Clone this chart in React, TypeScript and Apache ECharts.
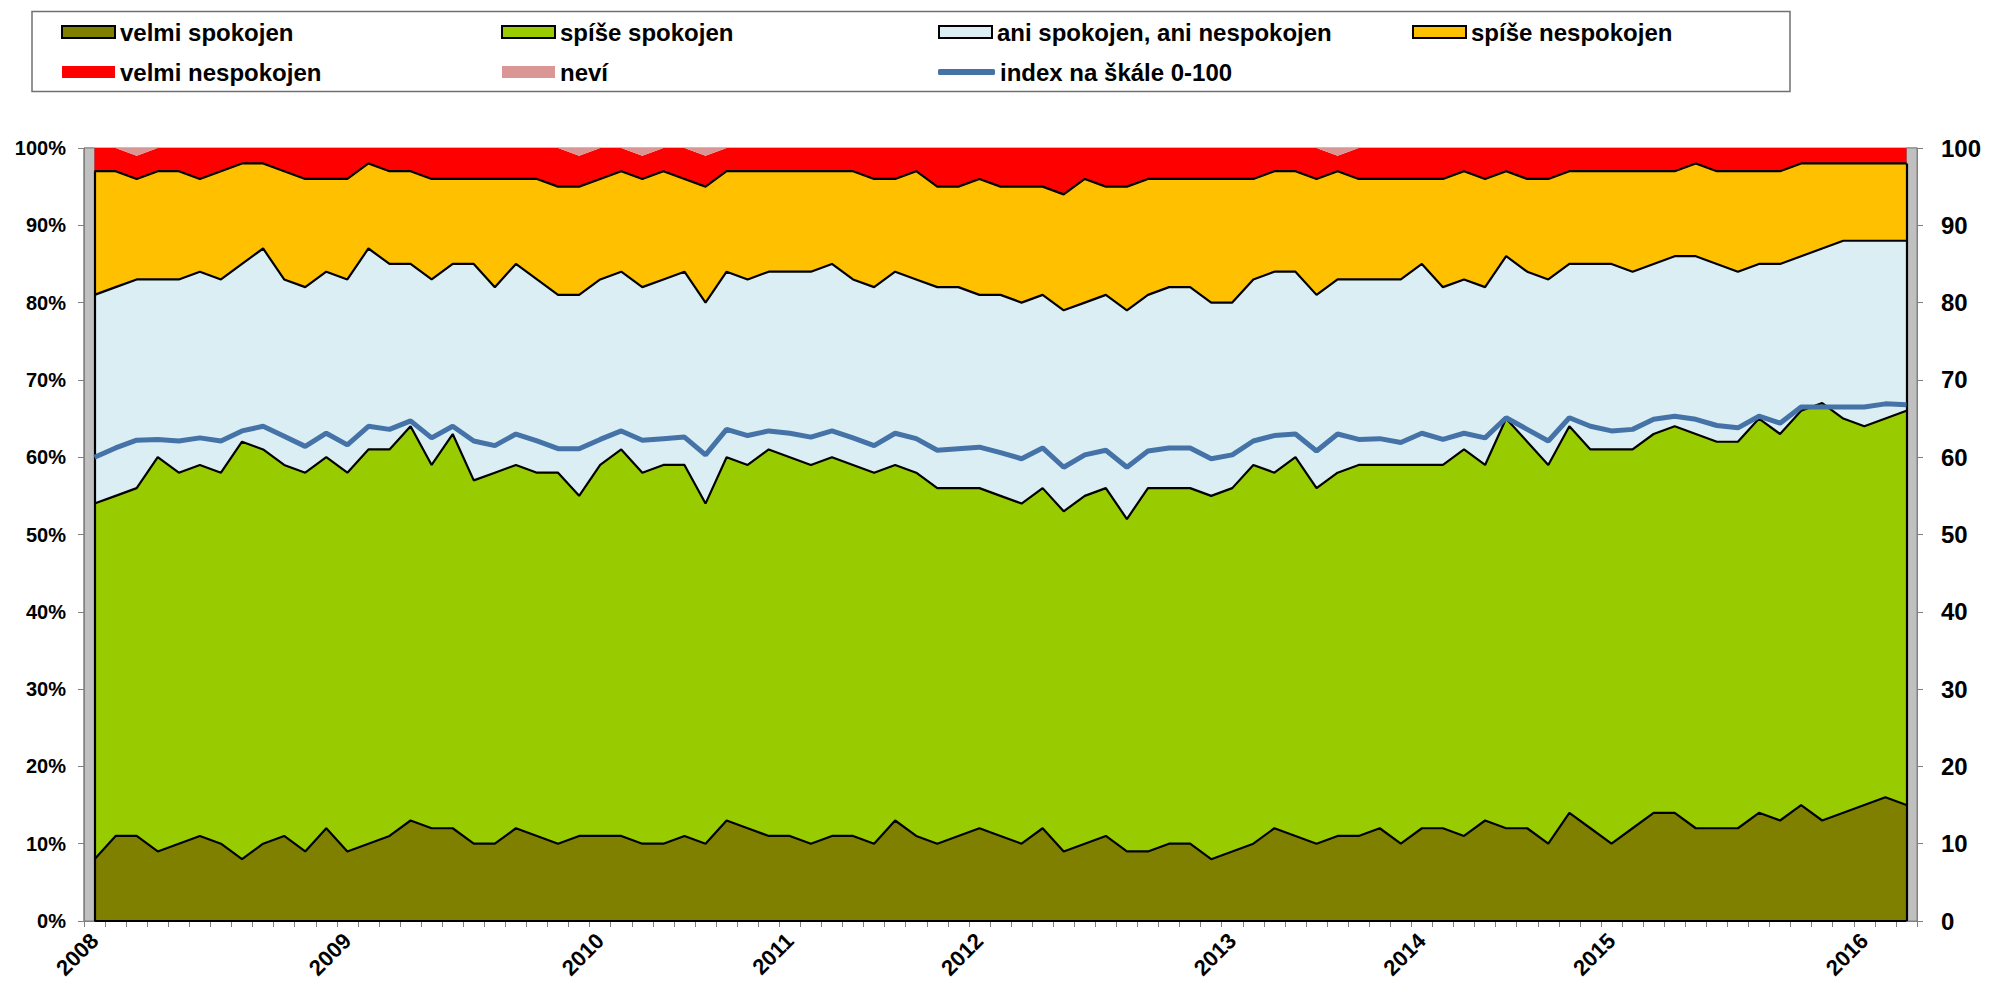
import { useEffect, useRef } from "react";
import * as echarts from "echarts";

// ---- data (percent of respondents, one value per survey) ----
const years = ["2008", "2009", "2010", "2011", "2012", "2013", "2014", "2015", "2016"];
const surveysPerYear = [12, 12, 9, 9, 12, 9, 9, 12, 3];

const velmiSpokojen = [
  8, 11, 11, 9, 10, 11, 10, 8, 10, 11, 9, 12, 9, 10, 11, 13, 12, 12, 10, 10, 12,
  11, 10, 11, 11, 11, 10, 10, 11, 10, 13, 12, 11, 11, 10, 11, 11, 10, 13, 11, 10, 11, 12, 11,
  10, 12, 9, 10, 11, 9, 9, 10, 10, 8, 9, 10, 12, 11, 10, 11, 11, 12, 10, 12, 12, 11, 13,
  12, 12, 10, 14, 12, 10, 12, 14, 14, 12, 12, 12, 14, 13, 15, 13, 14, 15, 16, 15,
];
const spiseSpokojen = [
  46, 44, 45, 51, 48, 48, 48, 54, 51, 48, 49, 48, 49, 51, 50, 51, 47, 51, 47, 48, 47,
  47, 48, 44, 48, 50, 48, 49, 48, 44, 47, 47, 50, 49, 49, 49, 48, 48, 46, 47, 46, 45, 44, 44,
  44, 44, 44, 45, 45, 43, 47, 46, 46, 47, 47, 49, 46, 49, 46, 47, 48, 47, 49, 47, 47, 50, 46,
  53, 50, 49, 50, 49, 51, 49, 49, 50, 51, 50, 50, 51, 50, 51, 54, 51, 49, 49, 51,
];
const aniAni = [
  27, 27, 27, 23, 25, 25, 25, 23, 26, 24, 24, 24, 25, 26, 24, 21, 24, 22, 28, 24, 26,
  25, 23, 26, 24, 23, 24, 24, 25, 26, 24, 24, 23, 24, 25, 25, 24, 24, 25, 25, 26, 26, 25, 26,
  26, 25, 26, 25, 25, 27, 25, 26, 26, 25, 24, 24, 26, 24, 25, 25, 24, 24, 24, 26, 23, 22, 23,
  21, 22, 24, 21, 24, 24, 23, 22, 22, 23, 23, 22, 20, 22, 20, 20, 23, 24, 23, 22,
];
const spiseNespokojen = [
  16, 15, 13, 14, 14, 12, 14, 13, 11, 14, 14, 12, 13, 11, 12, 12, 13, 11, 11, 14, 11,
  13, 14, 14, 13, 13, 14, 14, 12, 15, 13, 14, 13, 13, 13, 12, 14, 14, 12, 14, 13, 13, 15, 14,
  15, 14, 15, 16, 14, 16, 15, 14, 14, 16, 16, 13, 13, 13, 15, 14, 13, 13, 13, 11, 14, 14, 14,
  11, 12, 13, 12, 12, 12, 13, 12, 11, 12, 12, 13, 12, 12, 12, 11, 10, 10, 10, 10,
];
const velmiNespokojen = [
  3, 3, 3, 3, 3, 4, 3, 2, 2, 3, 4, 4, 4, 2, 3, 3, 4, 4, 4, 4, 4,
  4, 5, 4, 4, 3, 3, 3, 4, 4, 3, 3, 3, 3, 3, 3, 3, 4, 4, 3, 5, 5, 4, 5,
  5, 5, 6, 4, 5, 5, 4, 4, 4, 4, 4, 4, 3, 3, 4, 2, 4, 4, 4, 4, 4, 3, 4,
  3, 4, 4, 3, 3, 3, 3, 3, 3, 2, 3, 3, 3, 3, 2, 2, 2, 2, 2, 2,
];
const nevi = [
  0, 0, 1, 0, 0, 0, 0, 0, 0, 0, 0, 0, 0, 0, 0, 0, 0, 0, 0, 0, 0,
  0, 0, 1, 0, 0, 1, 0, 0, 1, 0, 0, 0, 0, 0, 0, 0, 0, 0, 0, 0, 0, 0, 0,
  0, 0, 0, 0, 0, 0, 0, 0, 0, 0, 0, 0, 0, 0, 0, 1, 0, 0, 0, 0, 0, 0, 0,
  0, 0, 0, 0, 0, 0, 0, 0, 0, 0, 0, 0, 0, 0, 0, 0, 0, 0, 0, 0,
];
const indexValues = [
  60.0, 61.2, 62.2, 62.3, 62.1, 62.5, 62.1, 63.4, 64.0, 62.7, 61.4, 63.1, 61.6, 64.0, 63.6, 64.7, 62.5, 64.0, 62.1, 61.5, 63.0,
  62.1, 61.1, 61.1, 62.3, 63.4, 62.2, 62.4, 62.6, 60.3, 63.6, 62.8, 63.4, 63.1, 62.6, 63.4, 62.5, 61.5, 63.1, 62.4, 60.9, 61.1, 61.3, 60.6,
  59.8, 61.2, 58.7, 60.3, 60.9, 58.7, 60.8, 61.2, 61.2, 59.8, 60.3, 62.1, 62.8, 63.0, 60.8, 63.0, 62.3, 62.4, 61.9, 63.1, 62.3, 63.1, 62.5,
  65.1, 63.6, 62.1, 65.1, 64.0, 63.4, 63.6, 64.9, 65.3, 64.9, 64.1, 63.8, 65.3, 64.4, 66.5, 66.5, 66.5, 66.5, 66.9, 66.8,
];

const names = {
  v: "velmi spokojen",
  s: "spíše spokojen",
  a: "ani spokojen, ani nespokojen",
  sn: "spíše nespokojen",
  vn: "velmi nespokojen",
  n: "neví",
  idx: "index na škále 0-100",
};

const categories: string[] = [];
years.forEach((y, yi) => {
  for (let k = 1; k <= surveysPerYear[yi]; k++) categories.push(`${y}/${k}`);
});

const COLORS = {
  v: "#808000",
  s: "#99CC00",
  a: "#DAEEF3",
  sn: "#FFC000",
  vn: "#FF0000",
  n: "#D99694",
  idx: "#4572A7",
};

const W = 1989;
const H = 984;
const GRID = { left: 84, right: 72, top: 148, bottom: 63 };
const FONT = "'Liberation Sans', Arial, Helvetica, sans-serif";
const GRAY = "#808080";

export default function App() {
  const ref = useRef<HTMLDivElement>(null);

  useEffect(() => {
    if (!ref.current) return;
    const chart = echarts.init(ref.current, null, { renderer: "svg" });

    const areaSeries = (name: string, data: number[], color: string) => ({
      name,
      type: "line",
      stack: "area",
      data,
      symbol: "none",
      color,
      lineStyle: { width: 0, color },
      areaStyle: { color, opacity: 1 },
      z: 2,
      silent: true,
    });
    const borderSeries = (key: string, data: number[]) => ({
      name: "border-" + key,
      type: "line",
      stack: "border",
      data,
      symbol: "none",
      lineStyle: { width: 2.2, color: "#000" },
      z: 3,
      silent: true,
    });

    const last = categories.length - 1;
    const topFirst = velmiSpokojen[0] + spiseSpokojen[0] + aniAni[0] + spiseNespokojen[0];
    const topLast = velmiSpokojen[last] + spiseSpokojen[last] + aniAni[last] + spiseNespokojen[last];

    const legendCommon = {
      orient: "vertical",
      itemWidth: 53,
      itemHeight: 12,
      itemGap: 16,
      icon: "rect",
      padding: 0,
      selectedMode: false,
      textStyle: { fontSize: 24, fontWeight: "bold", color: "#000", fontFamily: FONT },
    };
    const bordered = (c: string) => ({ color: c, borderColor: "#000", borderWidth: 2 });
    const plain = (c: string) => ({ color: c, borderColor: c, borderWidth: 0 });

    const axisLabelStyle = { fontWeight: "bold", color: "#000", fontFamily: FONT };

    chart.setOption({
      animation: false,
      backgroundColor: "#fff",
      textStyle: { fontFamily: FONT },
      grid: {
        left: GRID.left,
        right: GRID.right,
        top: GRID.top,
        bottom: GRID.bottom,
        show: true,
        borderColor: GRAY,
        borderWidth: 1,
        backgroundColor: "transparent",
      },
      legend: [
        { ...legendCommon, left: 61, top: 20, data: [
          { name: names.v, itemStyle: bordered(COLORS.v) },
          { name: names.vn, itemStyle: plain(COLORS.vn) },
        ] },
        { ...legendCommon, left: 501, top: 20, data: [
          { name: names.s, itemStyle: bordered(COLORS.s) },
          { name: names.n, itemStyle: plain(COLORS.n) },
        ] },
        { ...legendCommon, left: 938, top: 20, data: [
          { name: names.a, itemStyle: bordered(COLORS.a) },
        ] },
        { ...legendCommon, left: 938, top: 60, itemWidth: 57, itemHeight: 6, icon: "roundRect", data: [
          { name: names.idx, itemStyle: plain(COLORS.idx) },
        ] },
        { ...legendCommon, left: 1412, top: 20, data: [
          { name: names.sn, itemStyle: bordered(COLORS.sn) },
        ] },
      ],
      xAxis: {
        type: "category",
        data: categories,
        boundaryGap: true,
        axisLine: { show: true, lineStyle: { color: GRAY, width: 1 } },
        axisTick: { show: true, interval: 0, length: 6, lineStyle: { color: GRAY } },
        axisLabel: {
          interval: 0,
          rotate: 45,
          margin: 16,
          fontSize: 22,
          ...axisLabelStyle,
          formatter: (v: string) => (v.endsWith("/1") ? v.split("/")[0] : ""),
        },
        splitLine: { show: false },
      },
      yAxis: [
        {
          type: "value",
          min: 0,
          max: 100,
          interval: 10,
          position: "left",
          axisLine: { show: true, lineStyle: { color: GRAY } },
          axisTick: { show: true, length: 6, lineStyle: { color: GRAY } },
          axisLabel: { formatter: "{value}%", fontSize: 20, margin: 18, ...axisLabelStyle },
          splitLine: { show: false },
        },
        {
          type: "value",
          min: 0,
          max: 100,
          interval: 10,
          position: "right",
          axisLine: { show: true, lineStyle: { color: GRAY } },
          axisTick: { show: true, length: 6, lineStyle: { color: GRAY } },
          axisLabel: { fontSize: 24, margin: 24, ...axisLabelStyle },
          splitLine: { show: false },
        },
      ],
      series: [
        areaSeries(names.v, velmiSpokojen, COLORS.v),
        areaSeries(names.s, spiseSpokojen, COLORS.s),
        areaSeries(names.a, aniAni, COLORS.a),
        areaSeries(names.sn, spiseNespokojen, COLORS.sn),
        areaSeries(names.vn, velmiNespokojen, COLORS.vn),
        areaSeries(names.n, nevi, COLORS.n),
        borderSeries("v", velmiSpokojen),
        borderSeries("s", spiseSpokojen),
        borderSeries("a", aniAni),
        borderSeries("sn", spiseNespokojen),
        {
          name: names.idx,
          type: "line",
          yAxisIndex: 1,
          data: indexValues,
          symbol: "none",
          color: COLORS.idx,
          lineStyle: { width: 5, color: COLORS.idx },
          z: 5,
          silent: true,
          markLine: {
            silent: true,
            symbol: ["none", "none"],
            label: { show: false },
            lineStyle: { color: "#000", width: 2.2, type: "solid" },
            data: [
              [{ coord: [categories[0], 0] }, { coord: [categories[0], topFirst] }],
              [{ coord: [categories[last], 0] }, { coord: [categories[last], topLast] }],
              [{ coord: [categories[0], 0] }, { coord: [categories[last], 0] }],
            ],
          },
        },
      ],
    });

    const xFirst = chart.convertToPixel({ xAxisIndex: 0 }, categories[0]) as number;
    const xLast = chart.convertToPixel({ xAxisIndex: 0 }, categories[last]) as number;
    const yTop = chart.convertToPixel({ yAxisIndex: 0 }, 100) as number;
    const yBot = chart.convertToPixel({ yAxisIndex: 0 }, 0) as number;
    const gridRight = W - GRID.right;

    chart.setOption({
      graphic: [
        {
          type: "rect",
          shape: { x: 32, y: 11.5, width: 1758, height: 80 },
          style: { fill: "transparent", stroke: "#707070", lineWidth: 1.5 },
          silent: true,
        },
        {
          type: "rect",
          shape: { x: GRID.left, y: yTop, width: xFirst - GRID.left, height: yBot - yTop },
          style: { fill: "#C0C0C0", stroke: GRAY, lineWidth: 1 },
          silent: true,
        },
        {
          type: "rect",
          shape: { x: xLast, y: yTop, width: gridRight - xLast, height: yBot - yTop },
          style: { fill: "#C0C0C0", stroke: GRAY, lineWidth: 1 },
          silent: true,
        },
      ],
    });

    return () => chart.dispose();
  }, []);

  return (
    <div
      ref={ref}
      style={{ position: "fixed", left: 0, top: 0, width: W, height: H, background: "#fff" }}
    />
  );
}
